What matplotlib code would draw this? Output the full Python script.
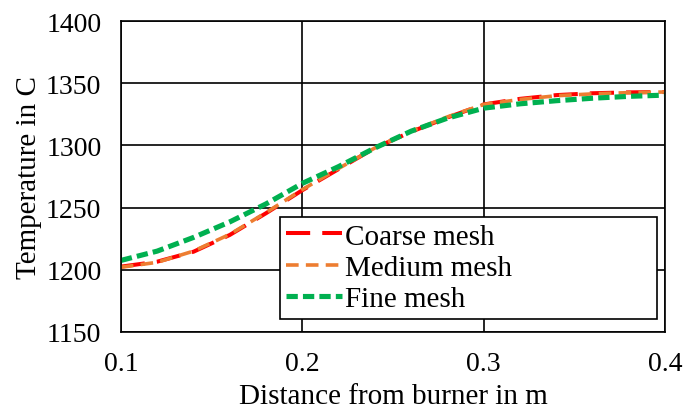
import numpy as np
import matplotlib.pyplot as plt

# distance from burner (m)
dist = [0.10, 0.12, 0.14, 0.16, 0.18, 0.20, 0.22, 0.24, 0.26, 0.28, 0.30, 0.32, 0.34, 0.36, 0.38, 0.40]
# temperature (C) for each mesh
coarse = [1202.5, 1206.5, 1214.5, 1228, 1245.5, 1264, 1281, 1298, 1311, 1322.5, 1333, 1337.5, 1340.5, 1342, 1342.7, 1343]
medium = [1202, 1206, 1215, 1228.5, 1246, 1264.5, 1281.5, 1298, 1311.5, 1323, 1333, 1337, 1340, 1341.5, 1342.5, 1343]
fine = [1207.5, 1215, 1226, 1238.5, 1253, 1269.5, 1283, 1298, 1311.5, 1322, 1330, 1333.5, 1336, 1338, 1339.5, 1340.5]

plt.rcParams['font.family'] = ['Liberation Serif', 'DejaVu Serif']

fig, ax = plt.subplots(figsize=(6.83, 4.10), dpi=100)
fig.subplots_adjust(left=0.177, right=0.974, top=0.946, bottom=0.188)

ax.plot(dist, coarse, color='#FF0000', lw=2.9, dashes=(6, 3), label='Coarse mesh')
ax.plot(dist, medium, color='#ED7D31', lw=2.6, dashes=(3.5, 2), label='Medium mesh')
ax.plot(dist, fine, color='#00B050', lw=3.7, dashes=(2.2, 1.0), label='Fine mesh')

ax.set_xlim(0.1, 0.4)
ax.set_ylim(1150, 1400)
ax.set_xticks([0.1, 0.2, 0.3, 0.4])
ax.set_xticklabels(['0.1', '0.2', '0.3', '0.4'])
ax.set_yticks(np.arange(1150, 1401, 50))
ax.grid(True, color='black', lw=1.2)
ax.tick_params(length=0, labelsize=20, pad=14)
for s in ax.spines.values():
    s.set_color('black')
    s.set_linewidth(1.2)

ax.set_xlabel('Distance from burner in m', fontsize=21, labelpad=5)
ax.set_ylabel('Temperature in C', fontsize=21, labelpad=3)

leg = ax.legend(loc='lower left', bbox_to_anchor=(0.292, 0.042, 0.693, 0.3), mode='expand',
                fontsize=21, frameon=True, fancybox=False, framealpha=1, edgecolor='black',
                handlelength=1.9, handletextpad=0.1, labelspacing=0.17,
                borderpad=0.22, borderaxespad=0)
leg.get_frame().set_linewidth(1.2)

fig.savefig('out.png', dpi=100)
